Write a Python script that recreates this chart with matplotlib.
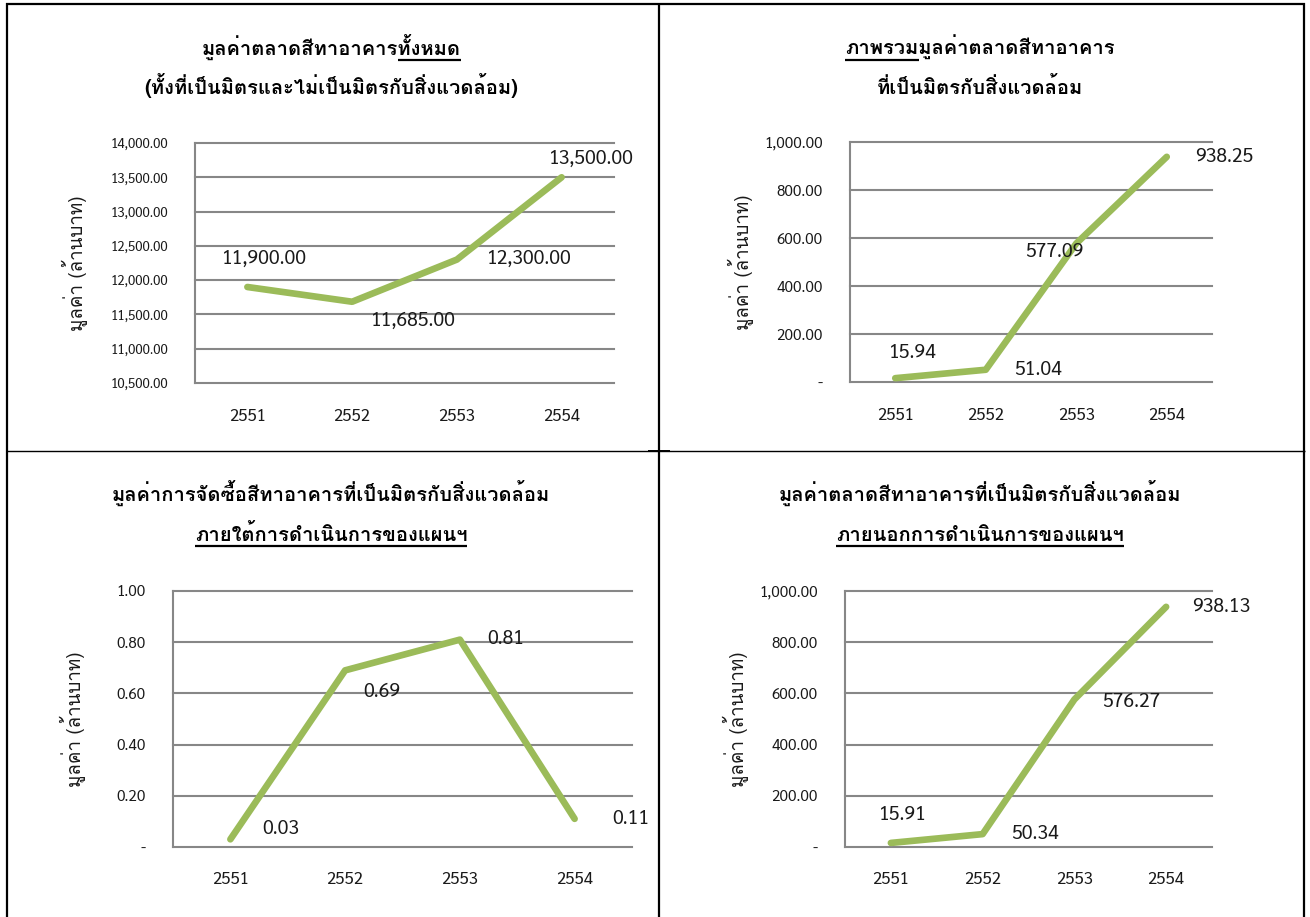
import matplotlib
matplotlib.use("Agg")
import matplotlib.pyplot as plt
from matplotlib.lines import Line2D
from matplotlib.ticker import FuncFormatter, MultipleLocator

# ---- data -------------------------------------------------------------
years = ["2551", "2552", "2553", "2554"]

total_market = [11900.00, 11685.00, 12300.00, 13500.00]
green_market = [15.94, 51.04, 577.09, 938.25]
green_procured = [0.03, 0.69, 0.81, 0.11]
green_outside = [15.91, 50.34, 576.27, 938.13]

titles = [
    ("มูลค่าตลาดสีทาอาคาร", "ทั้งหมด", "(ทั้งที่เป็นมิตรและไม่เป็นมิตรกับสิ่งแวดล้อม)", ""),
    ("", "ภาพรวม", "มูลค่าตลาดสีทาอาคาร", "ที่เป็นมิตรกับสิ่งแวดล้อม"),
    ("มูลค่าการจัดซื้อสีทาอาคารที่เป็นมิตรกับสิ่งแวดล้อม", "", "", "ภายใต้การดำเนินการของแผนฯ"),
    ("มูลค่าตลาดสีทาอาคารที่เป็นมิตรกับสิ่งแวดล้อม", "", "", "ภายนอกการดำเนินการของแผนฯ"),
]
y_label = "มูลค่า (ล้านบาท)"

# ---- style ------------------------------------------------------------
NUM_FONT = ["Sarabun", "DejaVu Sans"]      # numbers
THAI_FONT = ["Loma", "Sarabun", "DejaVu Sans"]  # Thai text (stacked tone marks)
plt.rcParams["font.family"] = NUM_FONT
LINE_COLOR = "#9BBB59"
GRID_COLOR = "#878787"
TEXT_COLOR = "#1a1a1a"

W, H = 1310, 917
fig = plt.figure(figsize=(W / 100, H / 100), dpi=100)


def fx(x):
    return x / W


def fy(y):
    return 1 - y / H


def hline(x0, x1, y, lw):
    fig.add_artist(Line2D([fx(x0), fx(x1)], [fy(y), fy(y)], color="black", lw=lw,
                          transform=fig.transFigure, solid_capstyle="butt"))


def vline(x, y0, y1, lw):
    fig.add_artist(Line2D([fx(x), fx(x)], [fy(y0), fy(y1)], color="black", lw=lw,
                          transform=fig.transFigure, solid_capstyle="butt"))


# table frame around the four panels
hline(6, 1305, 4, 1.6)
vline(7, 3, H, 1.6)
vline(1304, 3, H, 1.6)
vline(659, 3, H, 1.6)
hline(6, 1305, 451, 1.0)
hline(648, 670, 451, 1.4)


def money(v, _pos=None):
    return "-" if abs(v) < 1e-12 else f"{v:,.2f}"


def make_panel(rect, values, ylim, step, tick_fs, ylab_x, label_offsets, xlab_pad):
    left, top, right, bottom = rect
    ax = fig.add_axes([fx(left), fy(bottom), fx(right - left), (bottom - top) / H])
    x = list(range(len(years)))
    ax.plot(x, values, color=LINE_COLOR, lw=4.8, solid_capstyle="round",
            solid_joinstyle="round", zorder=3)
    ax.set_xlim(-0.5, len(years) - 0.5)
    ax.set_ylim(*ylim)
    ax.yaxis.set_major_locator(MultipleLocator(step))
    ax.yaxis.set_major_formatter(FuncFormatter(money))
    ax.set_xticks(x)
    ax.set_xticklabels(years)
    ax.tick_params(axis="both", length=0, colors=TEXT_COLOR)
    ax.tick_params(axis="y", labelsize=tick_fs, pad=19.5)
    ax.tick_params(axis="x", labelsize=12, pad=xlab_pad)
    ax.grid(axis="y", color=GRID_COLOR, lw=1.5)
    for gl in ax.get_ygridlines():
        gl.set_clip_on(False)
    for side in ("top", "right", "bottom"):
        ax.spines[side].set_visible(False)
    ax.spines["left"].set_color(GRID_COLOR)
    ax.spines["left"].set_linewidth(1.5)
    ax.set_axisbelow(True)
    # rotated axis title, centred on the plot height
    fig.text(fx(ylab_x), fy((top + bottom) / 2), y_label, rotation=90,
             ha="center", va="center", fontsize=13.5, color=TEXT_COLOR, family=THAI_FONT)
    for xi, v, (dx, dy) in zip(x, values, label_offsets):
        ax.annotate(money(v), (xi, v), xytext=(dx, dy), textcoords="offset pixels",
                    ha="center", va="center", fontsize=14, color=TEXT_COLOR,
                    annotation_clip=False)
    return ax


make_panel((195, 143, 614, 383), total_market, (10500, 14000), 500, 9.5, 75,
           [(17, 28), (61, -19), (72, 1), (30, 19)], 18)
make_panel((850, 142, 1212, 382), green_market, (0, 1000), 200, 11, 741,
           [(18, 25), (52, 0), (-22, -9), (58, 0)], 18)
make_panel((173, 591, 632, 847), green_procured, (0, 1.0), 0.2, 11, 73,
           [(50, 10), (37, -22), (46, 1), (56, 0)], 17)
make_panel((845, 591, 1212, 847), green_outside, (0, 1000), 200, 11, 736,
           [(12, 28), (52, 0), (57, -3), (55, 0)], 17)

# ---- titles (with underlined parts) ------------------------------------
TITLE_FS = 14.5
renderer = fig.canvas.get_renderer()


def text_width(s):
    if not s:
        return 0.0
    t = fig.text(0, 0, s, fontsize=TITLE_FS, fontweight="bold", family=THAI_FONT)
    w = t.get_window_extent(renderer).width
    t.remove()
    return w


def title_line(cx, y, plain, under, suffix=""):
    """Draw a bold title line centred at cx; the `under` part is underlined."""
    full = plain + under + suffix
    t = fig.text(fx(cx), fy(y), full, ha="center", va="baseline", family=THAI_FONT,
                 fontsize=TITLE_FS, fontweight="bold", color="black")
    if not under:
        return
    total = t.get_window_extent(renderer).width
    x0 = cx - total / 2 + text_width(plain)
    x1 = x0 + text_width(under)
    hline(x0, x1, y + 5, 1.6)


centers = [331, 980, 331, 980]
rows = [(55, 94), (55, 94), (501, 541), (501, 541)]
for (a, u, b, c), cx, (y1, y2) in zip(titles, centers, rows):
    if b and not c:
        # first panel: underline in first line, plain second line
        title_line(cx, y1, a, u)
        title_line(cx, y2, b, "")
    elif b and c:
        # second panel: underlined prefix on first line
        title_line(cx, y1, "", u, b)
        title_line(cx, y2, c, "")
    else:
        title_line(cx, y1, a, "")
        title_line(cx, y2, "", c)

fig.savefig("out.png", dpi=100)
